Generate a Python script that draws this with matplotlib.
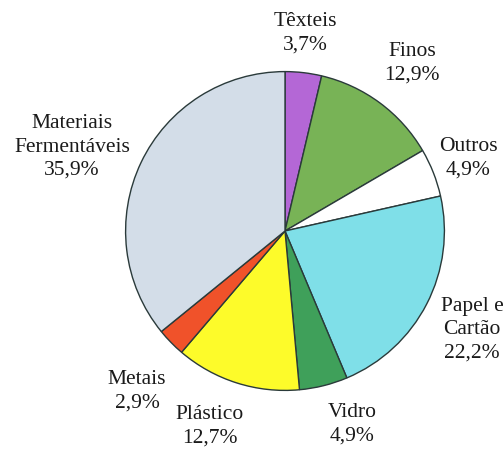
import matplotlib
matplotlib.use("Agg")
import matplotlib.pyplot as plt

categories = ["Têxteis", "Finos", "Outros", "Papel e\nCartão", "Vidro",
              "Plástico", "Metais", "Materiais\nFermentáveis"]
values = [3.7, 12.9, 4.9, 22.2, 4.9, 12.7, 2.9, 35.9]
value_labels = ["3,7%", "12,9%", "4,9%", "22,2%", "4,9%", "12,7%", "2,9%", "35,9%"]
colors = ["#b467d6", "#78b356", "#ffffff", "#7fdfe8", "#3fa05a",
          "#fdfb2a", "#f0522a", "#d3dde8"]

W, H = 503, 452
fig = plt.figure(figsize=(W / 100, H / 100), dpi=100)
cx, cy, r = 285, 232, 161
ax = fig.add_axes([(cx - r) / W, (H - cy - r) / H, 2 * r / W, 2 * r / H])
ax.pie(values, colors=colors, startangle=90, counterclock=False,
       wedgeprops=dict(edgecolor="#2a3a3a", linewidth=1.0))
ax.set_xlim(-1.01, 1.01)
ax.set_ylim(-1.01, 1.01)
ax.set_aspect("equal")
ax.axis("off")

# label positions in pixels (center of text block)
label_pos = [(305, 33), (412, 63), (468, 158), (472, 330), (352, 424),
             (210, 426), (137, 391), (72, 147)]
for cat, vl, (x, y) in zip(categories, value_labels, label_pos):
    fig.text(x / W, 1 - y / H, cat + "\n" + vl, ha="center", va="center",
             fontsize=15.5, family="Liberation Serif", color="#1a1a1a",
             linespacing=1.3)

fig.savefig("out.png", dpi=100)
